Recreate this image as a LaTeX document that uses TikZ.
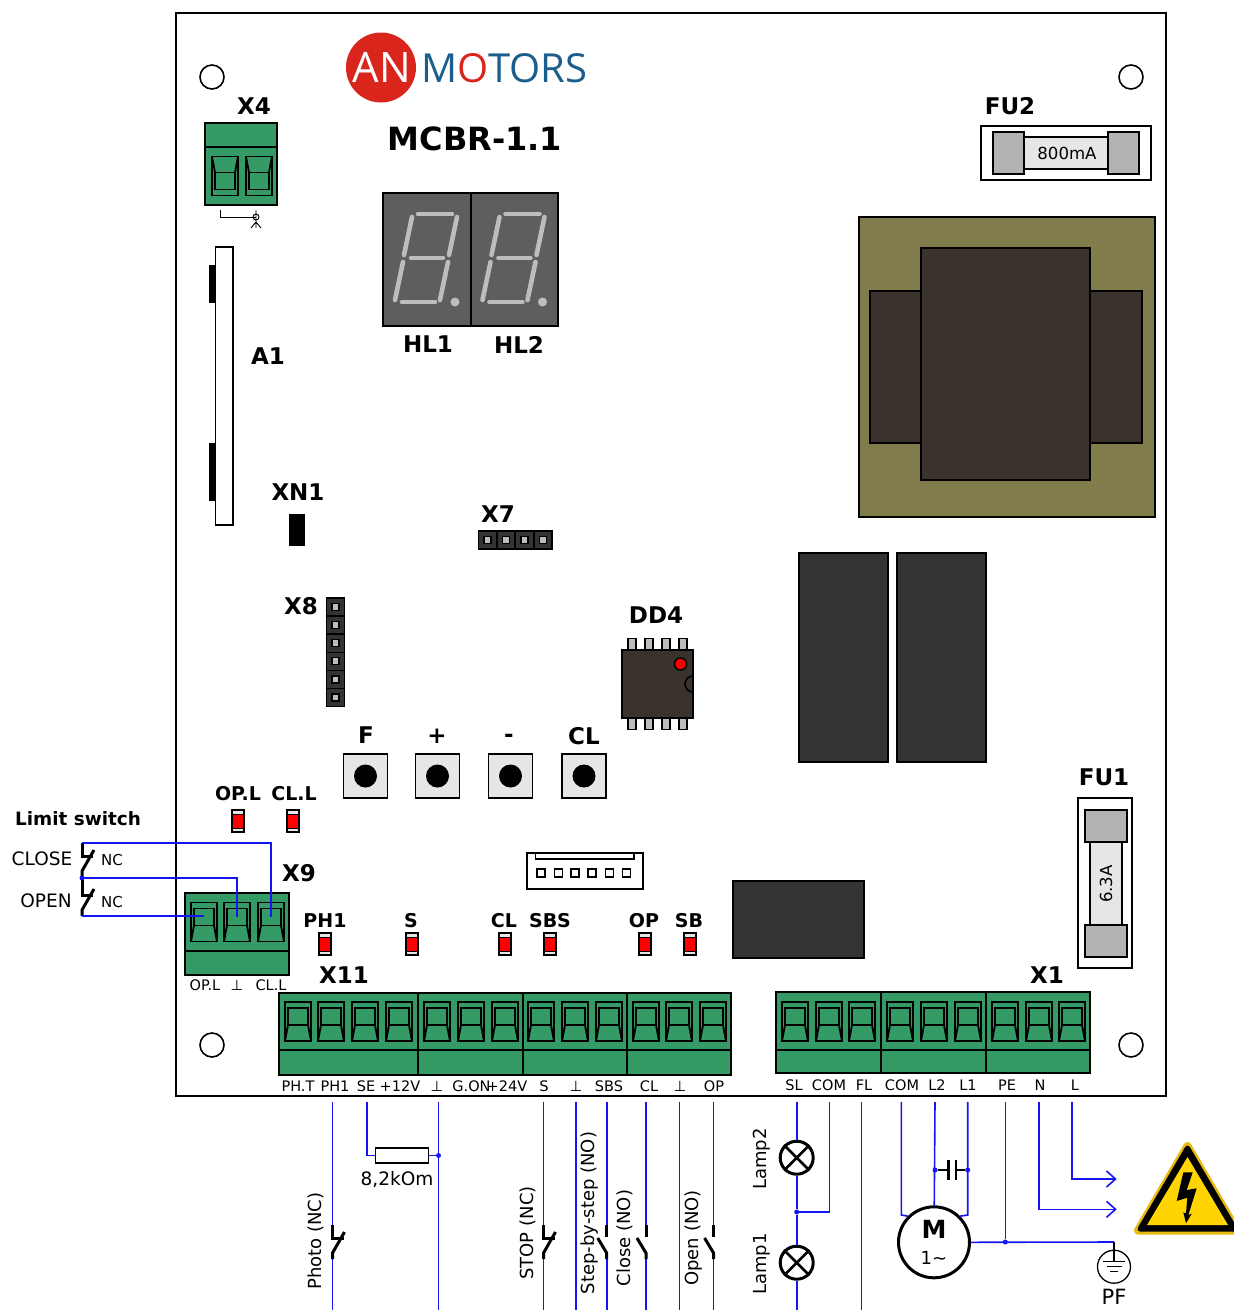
\documentclass[tikz,border=0pt]{standalone}
\usepackage{fontspec}
\setmainfont{DejaVu Sans}
\newfontfamily\logofont{Open Sans}
\usetikzlibrary{arrows.meta}
\definecolor{termgreen}{HTML}{349A66}
\definecolor{chipbrown}{HTML}{3A322C}
\definecolor{coreolive}{HTML}{807C4C}
\definecolor{relaydark}{HTML}{333333}
\definecolor{dispgray}{HTML}{5E5E5E}
\definecolor{seggray}{HTML}{BDBDBD}
\definecolor{capgray}{HTML}{B3B3B3}
\definecolor{bodygray}{HTML}{E6E6E6}
\definecolor{wireblue}{HTML}{1414F5}
\definecolor{logoblue}{HTML}{1B5E8C}
\definecolor{logored}{HTML}{DA251C}
\definecolor{signgold}{HTML}{E8B90F}
\definecolor{signyellow}{HTML}{FFD400}
\begin{document}
\begin{tikzpicture}[x=1pt,y=-1pt]
 \tikzset{
  title/.style={font=\bfseries\fontsize{23}{24}\selectfont,inner sep=0pt},
  small title/.style={font=\bfseries\fontsize{19}{20}\selectfont,inner sep=0pt},
  term text/.style={font=\fontsize{14.5}{15}\selectfont,inner sep=0pt},
  side text/.style={font=\fontsize{18.5}{19}\selectfont,inner sep=0pt},
  up text/.style={font=\fontsize{18}{19}\selectfont,inner sep=0pt,rotate=90},
  hole/.style={draw,circle,line width=1.6pt,minimum size=24pt,inner sep=0pt},
  termblock/.style={draw,fill=termgreen,line width=1.8pt},
  termline/.style={draw,line width=1.8pt},
  wire/.style={draw=wireblue,line width=1.6pt},
  solder/.style={circle,fill=wireblue,minimum size=5pt,inner sep=0pt},
  contact/.style={line width=3pt},
  lamp/.style={draw,circle,fill=white,line width=3pt,minimum size=33pt,inner sep=0pt},
  button/.style={draw,fill=bodygray,line width=1.6pt,minimum size=44pt,inner sep=0pt},
  button dot/.style={circle,fill=black,minimum size=23pt,inner sep=0pt},
  pincell/.style={draw,fill=black!80,line width=1.4pt,minimum size=18pt,inner sep=0pt},
  pinhole/.style={draw,fill=seggray,line width=1.2pt,minimum size=7pt,inner sep=0pt},
  legs/.style={draw,fill=seggray,line width=1.6pt},
  seg/.style={seggray,line width=4.6pt,line cap=round},
  screw/.pic={
    \draw[termline] (-13,-19.5) rectangle (13,19.5);
    \draw[termline] (-10,-13.5) rectangle (10,3.5);
    \draw[termline] (-10,3.5) -- (-13,19.5);
    \draw[termline] (10,3.5) -- (13,19.5);
  },
  led/.pic={
    \draw[fill=bodygray,line width=1.2pt] (-6,-11) rectangle (6,11);
    \fill[red] (-5,-7) rectangle (5,7);
    \draw[line width=.8pt] (-5,-7) -- (5,-7) (-5,7) -- (5,7);
  },
  nc switch/.pic={
    \draw[contact] (0,0) -- (0,13) -- (11,13);
    \draw[contact] (12,7) -- (0,28) -- (0,34);
  },
  no switch/.pic={
    \draw[contact] (0,0) -- (0,12);
    \draw[contact] (-9,13) -- (0,28) -- (0,34);
  }
 }
 \useasboundingbox (0,0) rectangle (1234,1310);
 \draw[line width=2pt] (176,13) rectangle (1166,1096);
 \node[hole] (hole1) at (212,77) {};
 \node[hole] (hole2) at (1131,77) {};
 \node[hole] (hole3) at (212,1045) {};
 \node[hole] (hole4) at (1131,1045) {};
 % logo
 \fill[logored] (381,67.5) circle (35);
 \node[inner sep=0pt,white,font=\logofont\fontsize{42}{42}\selectfont] (logoAN) at (382,67.5) {AN};
 \node[inner sep=0pt,anchor=west,logoblue,font=\logofont\fontsize{40}{40}\selectfont] (logoM) at (421,68.5) {M\textcolor{logored}{O}TORS};
 \node[inner sep=0pt,font=\bfseries\fontsize{32}{32}\selectfont] (board) at (475,138.5) {MCBR-1.1};
 % display
 \draw[fill=dispgray,line width=2pt] (383,193) rectangle (558,326);
 \draw[line width=2pt] (470.5,193) -- (470.5,326);
 \foreach \d in {0,87.5}{
  \begin{scope}[xshift=\d pt]
   \draw[seg] (418,214) -- (452,214);
   \draw[seg] (412,217) -- (404,255);
   \draw[seg] (457,217) -- (449,255);
   \draw[seg] (411,258) -- (443,258);
   \draw[seg] (403,262) -- (395,300);
   \draw[seg] (448,262) -- (440,300);
   \draw[seg] (402,302) -- (435,302);
   \fill[seggray] (455,302) circle (4.5);
  \end{scope}
 }
 % labels on the board
 \foreach \n/\t/\x/\y in {x4/X4/254/106.5,fu2/FU2/1010/106.5,a1/A1/268/356.5,hl1/HL1/428/344.5,hl2/HL2/519/344.5,
   xn1/XN1/298/492.5,x7/X7/498/514.5,x8/X8/301/606.5,dd4/DD4/656/615.5,btF/F/366/735,btP/+/437/736,btM/-/509/738,
   btC/CL/584/736,x9/X9/299/873.5,x11/X11/344/975,x1/X1/1047/975,fu1/FU1/1104/777.5}
   \node[title] (lab\n) at (\x,\y) {\t};
 \foreach \n/\t/\x/\y in {opl/OP.L/238/794,cll/CL.L/294/794,ph/PH1/325/921,s/S/411/921,cl/CL/504/921,
   sbs/SBS/550/921,op/OP/644/921,sb/SB/689/921}
   \node[small title] (lab\n) at (\x,\y) {\t};
 \node[small title,font=\bfseries\fontsize{18.4}{20}\selectfont] (lablim) at (78,819) {Limit switch};
 % terminal blocks
 \draw[termblock] (205,123) rectangle (277,205);
 \draw[termline] (205,147) -- (277,147);
 \foreach \x in {225,259}
   \pic[yscale=-1] at (\x,176) {screw};
 \draw[termblock] (185,893) rectangle (289,975);
 \draw[termline] (185,951) -- (289,951);
 \foreach \x in {204,237,271}
   \pic at (\x,922) {screw};
 \draw[termblock] (279,993) rectangle (731,1075);
 \draw[termline] (279,1050) -- (731,1050);
 \foreach \x in {418,523,627}
   \draw[termline] (\x,993) -- (\x,1075);
 \foreach \x in {298,331,365,399,437,471,505,541,575,609,646,679,713}
   \pic at (\x,1021.5) {screw};
 \draw[termblock] (776,992) rectangle (1090,1073);
 \draw[termline] (776,1050) -- (1090,1050);
 \foreach \x in {881,986}
   \draw[termline] (\x,992) -- (\x,1073);
 \foreach \x in {795,829,862,900,934,968,1005,1039,1072}
   \pic at (\x,1021.5) {screw};
 % terminal names
 \foreach \n/\t/\x in {a/OP.L/205,b/⊥/237,c/CL.L/271}
   \node[term text] (nine\n) at (\x,985) {\t};
 \foreach \n/\t/\x in {a/PH.T/298,b/PH1/335,c/SE/366,d/+12V/400,e/⊥/437,f/G.ON/471.5,g/+24V/507,
   h/S/544,i/⊥/576,j/SBS/609,k/CL/649,l/⊥/680,m/OP/714}
   \node[term text] (elev\n) at (\x,1086) {\t};
 \foreach \n/\t/\x in {a/SL/794,b/COM/829,c/FL/864,d/COM/902,e/L2/937,f/L1/968,g/PE/1007,h/N/1040,i/L/1075}
   \node[term text] (one\n) at (\x,1085) {\t};
 % earth mark at X4
 \draw[line width=.9pt] (220,210) -- (220,217) -- (256,217);
 \draw[line width=.9pt] (256,210) -- (256,222) (251,228) -- (256,222) -- (261,228) (256,222) -- (256,228);
 \draw[line width=.9pt] (256,217) circle (3);
 % A1, XN1
 \fill (209,265) rectangle (217,303);
 \fill (209,443) rectangle (217,501);
 \draw[fill=white,line width=1.6pt] (215.5,247) rectangle (233,525);
 \fill (289,514) rectangle (305,546);
 % pin strips
 \foreach \i in {0,...,3}{
  \node[pincell] (sevenC\i) at (487.5+18.5*\i,540) {};
  \node[pinhole] (sevenH\i) at (sevenC\i) {};
 }
 \foreach \i in {0,...,5}{
  \node[pincell] (eightC\i) at (335.5,607+18.1*\i) {};
  \node[pinhole] (eightH\i) at (eightC\i) {};
 }
 % DD4
 \foreach \x in {632,649,666,683}{
  \draw[legs] (\x-4,638.5) rectangle (\x+4,650);
  \draw[legs] (\x-4,718) rectangle (\x+4,729.5);
 }
 \draw[fill=chipbrown,line width=1.8pt] (622,650) rectangle (693,718);
 \draw[line width=1.6pt] (693,692) arc (90:270:8);
 \draw[fill=red,line width=1.4pt] (680.5,664) circle (6);
 % buttons
 \foreach \n/\x in {F/365.5,P/437.5,M/510.5,C/584}{
  \node[button] (btn\n) at (\x,776) {};
  \node[button dot] (dot\n) at (btn\n) {};
 }
 % relays and transformer
 \draw[fill=relaydark,line width=1.6pt] (799,553) rectangle (888,762);
 \draw[fill=relaydark,line width=1.6pt] (897,553) rectangle (986,762);
 \draw[fill=relaydark,line width=1.6pt] (733,881) rectangle (864,958);
 \draw[fill=coreolive,line width=1.6pt] (859,217) rectangle (1155,517);
 \draw[fill=chipbrown,line width=1.6pt] (870,291) rectangle (922,443);
 \draw[fill=chipbrown,line width=1.6pt] (1090,291) rectangle (1142,443);
 \draw[fill=chipbrown,line width=1.6pt] (921,248) rectangle (1090,480);
 % fuses
 \draw[line width=1.6pt] (981,126) rectangle (1151,180);
 \draw[fill=bodygray,line width=1.6pt] (1024,137) rectangle (1108,169);
 \draw[fill=capgray,line width=1.6pt] (993,132) rectangle (1024,174);
 \draw[fill=capgray,line width=1.6pt] (1108,132) rectangle (1139,174);
 \node[inner sep=0pt,font=\fontsize{16.6}{17}\selectfont] (fuTwoVal) at (1067,153) {800mA};
 \draw[line width=1.6pt] (1078,798) rectangle (1132,968);
 \draw[fill=bodygray,line width=1.6pt] (1090,842) rectangle (1122,925);
 \draw[fill=capgray,line width=1.6pt] (1085,810) rectangle (1127,842);
 \draw[fill=capgray,line width=1.6pt] (1085,925) rectangle (1127,957);
 \node[inner sep=0pt,rotate=90,font=\fontsize{16.6}{17}\selectfont] (fuOneVal) at (1106,884) {6.3A};
 % plug
 \draw[line width=1.6pt] (527,853) rectangle (643,889);
 \draw[line width=1.6pt] (535.5,853) rectangle (634,859);
 \foreach \x in {541,558.5,575,592,609.5,626.5}
   \draw[line width=1.6pt] (\x-4,869) rectangle (\x+4,877);
 % leds
 \foreach \x/\y in {238/821,293/821,325/944,412/944,505/944,550/944,645/944,690/944}
   \pic at (\x,\y) {led};
 % limit switches
 \node[side text] (close) at (42,859) {CLOSE};
 \node[side text] (open) at (46,901) {OPEN};
 \node[inner sep=0pt,font=\fontsize{15}{15}\selectfont] (ncA) at (112,860) {NC};
 \node[inner sep=0pt,font=\fontsize{15}{15}\selectfont] (ncB) at (112,902) {NC};
 \pic at (82,843) {nc switch};
 \pic at (82,882) {nc switch};
 \coordinate (limTop) at (82,843);
 \coordinate (limMid) at (82,878);
 \coordinate (limEnd) at (82,916);
 \coordinate (nineL) at (204,916);
 \coordinate (nineM) at (237,917);
 \coordinate (nineR) at (271,917);
 \draw[contact] (limMid) -- (82,882);
 \draw[wire] (limTop) -| (nineR);
 \draw[wire] (limMid) -| (nineM);
 \draw[wire] (limEnd) -- (nineL);
 \node[solder] (limDot) at (limMid) {};
 % wires to the outside
 \foreach \n/\x in {ph/332.5,gnd/438.5,st/543.5,gb/576,sbs/606.7,cl/646,gc/679.5,op/713.6,sl/796.7,fl/861.3}{
  \coordinate (top\n) at (\x,1102);
  \coordinate (end\n) at (\x,1310);
  \coordinate (swa\n) at (\x,1225);
  \coordinate (swb\n) at (\x,1259);
 }
 \foreach \n in {gnd,gb,gc,fl}
   \draw[wire] (top\n) -- (end\n);
 \foreach \n in {ph,st,sbs,cl,op}{
   \draw[wire] (top\n) -- (swa\n);
   \draw[wire] (swb\n) -- (end\n);
 }
 \pic at (swaph) {nc switch};
 \pic at (swast) {nc switch};
 \pic at (swasbs) {no switch};
 \pic at (swacl) {no switch};
 \pic at (swaop) {no switch};
 \node[up text] (photo) at (316,1241) {Photo (NC)};
 \node[up text] (stop) at (528,1233) {STOP (NC)};
 \node[up text] (stepper) at (589.5,1213) {Step-by-step (NO)};
 \node[up text] (closing) at (625,1238) {Close (NO)};
 \node[up text] (opening) at (694,1238) {Open (NO)};
 % resistor
 \node[draw,fill=white,line width=1.6pt,minimum width=53pt,minimum height=15pt,inner sep=0pt] (res) at (402,1155.5) {};
 \node[side text] (resval) at (397,1180) {8,2kOm};
 \coordinate (topse) at (367,1102);
 \node[solder] (resdot) at (438.5,1155.5) {};
 \draw[wire] (topse) |- (res);
 \draw[wire] (res) -- (resdot);
 % lamps
 \node[lamp] (lampB) at (796.7,1157.7) {};
 \node[lamp] (lampA) at (796.7,1262.7) {};
 \foreach \n in {lampA,lampB}
   \draw[line width=2.6pt] (\n.45) -- (\n.225) (\n.135) -- (\n.315);
 \node[solder] (lampDot) at (796.7,1212) {};
 \coordinate (topcom) at (829.3,1102);
 \draw[wire] (topsl) -- (lampB);
 \draw[wire] (lampB) -- (lampDot);
 \draw[wire] (lampDot) -- (lampA);
 \draw[wire] (lampA) -- (endsl);
 \draw[wire] (topcom) |- (lampDot);
 \node[up text] (lampTwo) at (762,1159) {Lamp2};
 \node[up text] (lampOne) at (762,1264) {Lamp1};
 % motor
 \node[draw,circle,fill=white,line width=3pt,minimum size=71pt,inner sep=0pt] (motor) at (934,1242.3) {};
 \node[inner sep=0pt,font=\bfseries\fontsize{25}{25}\selectfont] (motorM) at (934,1229) {M};
 \node[inner sep=0pt,font=\fontsize{18}{18}\selectfont] (motorN) at (934,1258) {1\textasciitilde};
 \coordinate (topmc) at (901.3,1102);
 \coordinate (topl2) at (935,1102);
 \coordinate (topl1) at (967.7,1102);
 \coordinate (toppe) at (1005.3,1102);
 \coordinate (topn) at (1039,1102);
 \coordinate (topl) at (1071.7,1102);
 \coordinate (bendmc) at (901.3,1215);
 \coordinate (bendl1) at (967.7,1215);
 \draw[wire] (topmc) -- (bendmc) -- (motor.135);
 \draw[wire] (topl2) -- (motor);
 \draw[wire] (topl1) -- (bendl1) -- (motor.45);
 % capacitor
 \node[solder] (capA) at (935,1170) {};
 \node[solder] (capB) at (967.7,1170) {};
 \coordinate (plateA) at (948.3,1170);
 \coordinate (plateB) at (956,1170);
 \draw[line width=1.6pt] (capA) -- (plateA) (plateB) -- (capB);
 \draw[line width=2.6pt] (948.3,1160) -- (948.3,1180) (956,1160) -- (956,1180);
 % earth
 \node[solder] (peDot) at (1005.3,1242) {};
 \coordinate (earthTop) at (1114,1242);
 \node[draw,circle,line width=1.3pt,minimum size=33pt,inner sep=0pt] (earth) at (1114,1266.7) {};
 \draw[wire] (toppe) -- (peDot);
 \draw[wire] (motor.east) -- (earthTop);
 \draw[line width=1.2pt] (earthTop) -- (1114,1261.7);
 \draw[line width=1.2pt] (1103,1261.7) -- (1125,1261.7) (1106.5,1266.7) -- (1121.5,1266.7) (1110,1271.7) -- (1118,1271.7);
 \node[inner sep=0pt,font=\fontsize{21}{22}\selectfont] (pf) at (1114,1297) {PF};
 % mains
 \coordinate (tipN) at (1116.7,1209.3);
 \coordinate (tipL) at (1116.7,1179);
 \draw[wire,-{Straight Barb[length=9pt,width=16pt]}] (topn) |- (tipN);
 \draw[wire,-{Straight Barb[length=9pt,width=16pt]}] (topl) |- (tipL);
 % warning sign
 \draw[draw=signgold,fill=signgold,line width=8pt,line join=round] (1187.5,1146) -- (1138,1230.5) -- (1237,1230.5) -- cycle;
 \draw[fill=black,line width=5pt,line join=round] (1187.5,1148) -- (1140,1229) -- (1235,1229) -- cycle;
 \fill[signyellow] (1187.5,1157) -- (1147,1225) -- (1228,1225) -- cycle;
 \fill (1183.3,1172.3) -- (1192.7,1172.3) -- (1186.7,1190) -- (1196.7,1188.3) -- (1188.3,1215) -- (1191.7,1213.7)
   -- (1186,1223.3) -- (1183.3,1212.3) -- (1186,1213.3) -- (1187.3,1197.7) -- (1176.7,1201) -- cycle;
\end{tikzpicture}
\end{document}
